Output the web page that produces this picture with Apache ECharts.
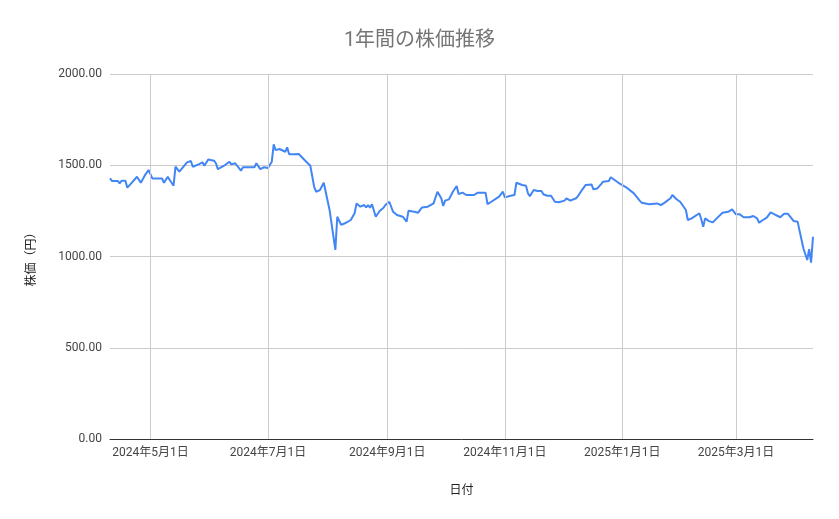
<!DOCTYPE html>
<html>
<head>
<meta charset="utf-8">
<script src="https://cdn.jsdelivr.net/npm/echarts@6/dist/echarts.min.js"></script>
<style>
html,body{margin:0;padding:0;background:#fff;}
#chart{width:839px;height:519px;}
</style>
</head>
<body>
<div id="chart"></div>
<script>
const titleText = '1年間の株価推移';
const yAxisName = '株価（円）';
const xAxisName = '日付';

const dates = [
'2024-04-10','2024-04-11','2024-04-14','2024-04-15','2024-04-16','2024-04-18','2024-04-19','2024-04-21','2024-04-24','2024-04-26',
'2024-04-28','2024-04-30','2024-05-02','2024-05-05','2024-05-07','2024-05-08','2024-05-10','2024-05-11','2024-05-13','2024-05-14',
'2024-05-16','2024-05-17','2024-05-20','2024-05-22','2024-05-23','2024-05-26','2024-05-28','2024-05-29','2024-05-31','2024-06-03',
'2024-06-04','2024-06-05','2024-06-08','2024-06-11','2024-06-12','2024-06-14','2024-06-17','2024-06-18','2024-06-22','2024-06-24',
'2024-06-25','2024-06-27','2024-06-29','2024-07-01','2024-07-03','2024-07-04','2024-07-05','2024-07-07','2024-07-08','2024-07-10',
'2024-07-11','2024-07-12','2024-07-15','2024-07-17','2024-07-20','2024-07-23','2024-07-25','2024-07-26','2024-07-28','2024-07-30',
'2024-07-31','2024-08-02','2024-08-05','2024-08-06','2024-08-08','2024-08-10','2024-08-13','2024-08-15','2024-08-16','2024-08-18',
'2024-08-20','2024-08-21','2024-08-22','2024-08-23','2024-08-24','2024-08-26','2024-08-28','2024-08-30','2024-08-31','2024-09-02',
'2024-09-04','2024-09-06','2024-09-09','2024-09-10','2024-09-11','2024-09-12','2024-09-15','2024-09-17','2024-09-19','2024-09-22',
'2024-09-25','2024-09-27','2024-09-29','2024-09-30','2024-10-01','2024-10-03','2024-10-05','2024-10-07','2024-10-08','2024-10-10',
'2024-10-12','2024-10-16','2024-10-18','2024-10-22','2024-10-23','2024-10-25','2024-10-26','2024-10-29','2024-10-31','2024-11-01',
'2024-11-04','2024-11-06','2024-11-07','2024-11-10','2024-11-12','2024-11-13','2024-11-14','2024-11-16','2024-11-18','2024-11-20',
'2024-11-21','2024-11-23','2024-11-25','2024-11-26','2024-11-27','2024-11-28','2024-11-29','2024-12-02','2024-12-03','2024-12-05',
'2024-12-08','2024-12-09','2024-12-11','2024-12-13','2024-12-16','2024-12-17','2024-12-19','2024-12-21','2024-12-22','2024-12-25',
'2024-12-26','2024-12-28','2024-12-30','2025-01-03','2025-01-07','2025-01-08','2025-01-10','2025-01-11','2025-01-15','2025-01-19',
'2025-01-21','2025-01-23','2025-01-26','2025-01-27','2025-01-29','2025-01-31','2025-02-03','2025-02-04','2025-02-06','2025-02-10',
'2025-02-11','2025-02-12','2025-02-13','2025-02-15','2025-02-17','2025-02-19','2025-02-20','2025-02-22','2025-02-25','2025-02-27',
'2025-03-01','2025-03-03','2025-03-05','2025-03-08','2025-03-10','2025-03-12','2025-03-13','2025-03-15','2025-03-17','2025-03-19',
'2025-03-21','2025-03-24','2025-03-26','2025-03-28','2025-03-31','2025-04-02','2025-04-05','2025-04-07','2025-04-08','2025-04-09',
'2025-04-10'
];

const prices = [
1428,1414,1414,1401,1415,1415,1377,1401,1437,1404,
1443,1474,1428,1428,1428,1404,1437,1419,1388,1492,
1465,1474,1516,1523,1492,1505,1516,1497,1532,1525,
1511,1479,1496,1519,1505,1511,1470,1489,1489,1489,
1511,1479,1489,1485,1519,1615,1583,1589,1593,1574,
1598,1560,1560,1562,1529,1497,1382,1355,1364,1404,
1414,1255,1036,1218,1173,1182,1200,1237,1291,1273,
1282,1269,1282,1267,1286,1218,1249,1267,1282,1300,
1245,1227,1218,1209,1191,1251,1245,1240,1269,1273,
1291,1355,1319,1277,1306,1313,1355,1386,1342,1350,
1337,1337,1350,1350,1287,1300,1295,1328,1355,1324,
1333,1337,1404,1392,1388,1346,1331,1364,1359,1359,
1341,1333,1333,1342,1300,1310,1297,1306,1319,1306,
1319,1331,1364,1392,1395,1368,1373,1397,1410,1414,
1434,1419,1404,1379,1346,1355,1306,1295,1286,1291,
1282,1295,1319,1337,1315,1300,1255,1200,1209,1237,
1204,1163,1209,1194,1187,1209,1204,1240,1245,1258,
1231,1231,1215,1215,1222,1209,1185,1200,1213,1242,
1231,1215,1234,1234,1194,1191,1045,981,1040,966,
1108
];

const xTickDates = ['2024-05-01','2024-07-01','2024-09-01','2024-11-01','2025-01-01','2025-03-01'];
const xRange = ['2024-04-10','2025-04-10'];
const yTicks = [0, 500, 1000, 1500, 2000];

function parseLocal(s) {
  const p = s.split('-').map(Number);
  return new Date(p[0], p[1] - 1, p[2]).getTime();
}

const seriesData = dates.map((d, i) => [parseLocal(d), prices[i]]);
const tickVals = xTickDates.map(parseLocal);

const chart = echarts.init(document.getElementById('chart'), null, {renderer: 'canvas'});
const FONT = 'Roboto, "Noto Sans CJK JP", sans-serif';

chart.setOption({
  backgroundColor: '#ffffff',
  animation: false,
  textStyle: { fontFamily: FONT },
  title: {
    text: titleText,
    left: 'center',
    top: 26,
    textStyle: { color: '#757575', fontSize: 20, fontWeight: 'normal', fontFamily: FONT }
  },
  grid: { left: 110, right: 26, top: 74, bottom: 80, containLabel: false },
  xAxis: {
    type: 'value',
    min: parseLocal(xRange[0]),
    max: parseLocal(xRange[1]),
    name: xAxisName,
    nameLocation: 'middle',
    nameGap: 46,
    nameTextStyle: { color: '#222222', fontSize: 12, fontFamily: FONT },
    axisLine: { show: true, lineStyle: { color: '#333333', width: 1 } },
    axisTick: { show: false, customValues: tickVals },
    splitLine: { show: false },
    axisLabel: {
      customValues: tickVals,
      color: '#444444',
      fontSize: 12,
      margin: 8,
      fontFamily: FONT,
      hideOverlap: false,
      formatter: function (v) {
        const d = new Date(v);
        return d.getFullYear() + '年' + (d.getMonth() + 1) + '月' + d.getDate() + '日';
      }
    }
  },
  yAxis: {
    type: 'value',
    min: yTicks[0],
    max: yTicks[yTicks.length - 1],
    interval: yTicks[1] - yTicks[0],
    name: yAxisName,
    nameLocation: 'middle',
    nameRotate: 90,
    nameGap: 72,
    nameTextStyle: { color: '#222222', fontSize: 12, fontFamily: FONT },
    axisLine: { show: false },
    axisTick: { show: false },
    splitLine: { show: true, lineStyle: { color: '#cccccc', width: 1 } },
    axisLabel: {
      color: '#444444',
      fontSize: 12,
      margin: 8,
      fontFamily: FONT,
      formatter: function (v) { return v.toFixed(2); }
    }
  },
  series: [
    {
      type: 'line',
      data: [],
      z: 1,
      silent: true,
      markLine: {
        silent: true,
        symbol: ['none', 'none'],
        label: { show: false },
        lineStyle: { color: '#cccccc', width: 1, type: 'solid' },
        data: tickVals.map(v => ({ xAxis: v }))
      }
    },
    {
      type: 'line',
      data: seriesData,
      z: 3,
      showSymbol: false,
      symbol: 'none',
      smooth: false,
      lineStyle: { color: '#4285F4', width: 2 },
      itemStyle: { color: '#4285F4' }
    }
  ]
});
</script>
</body>
</html>
